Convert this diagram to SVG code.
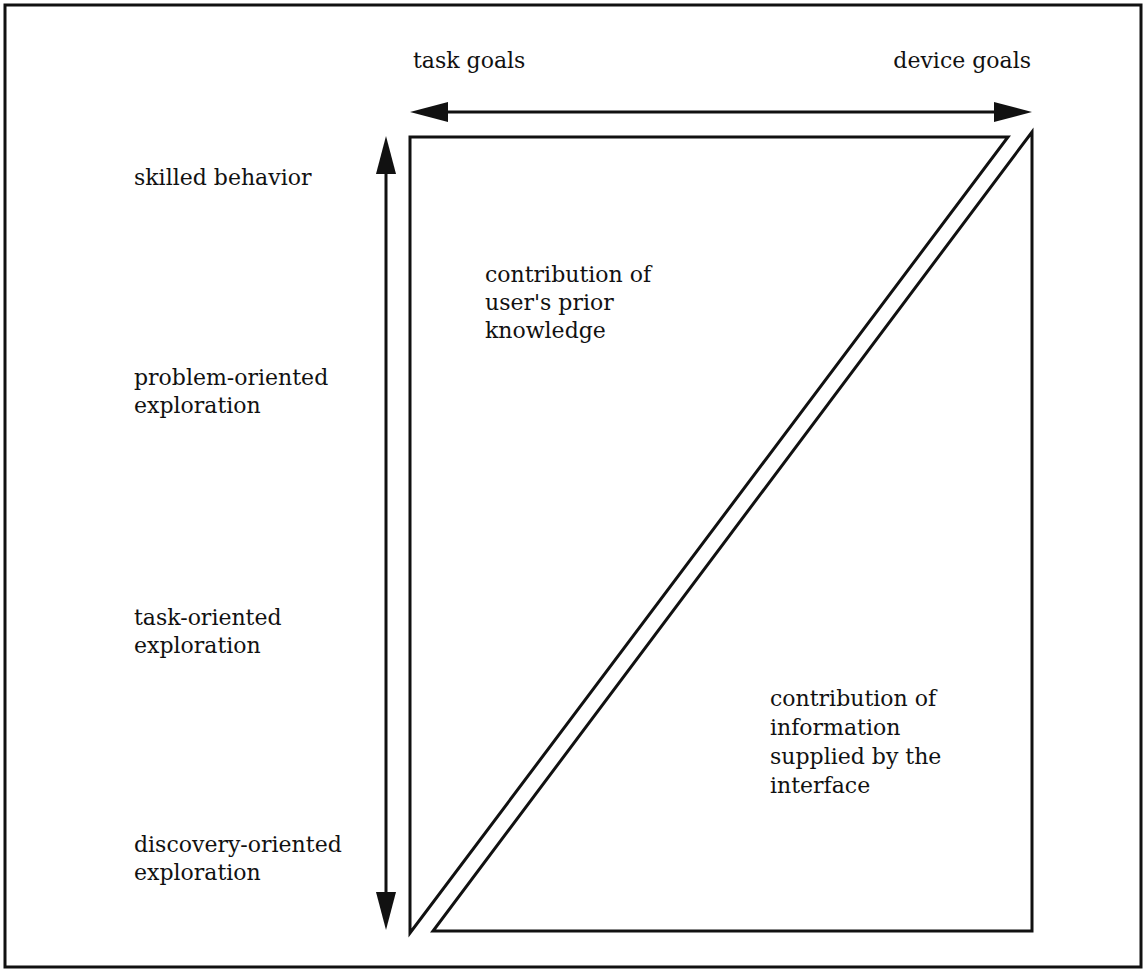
<svg xmlns="http://www.w3.org/2000/svg" width="1143" height="969" viewBox="0 0 1143 969">
<style>
text{font-family:"DejaVu Serif","Liberation Serif",serif;font-size:22px;fill:#111}
.ln{fill:none;stroke:#111;stroke-width:3;stroke-linejoin:miter}
.ar{fill:none;stroke:#111;stroke-width:3}
</style>
<defs>
<marker id="ah" markerUnits="userSpaceOnUse" markerWidth="38" markerHeight="22" refX="28" refY="11" orient="auto-start-reverse">
<path d="M0,1 L38,11 L0,21 Z" fill="#111"/>
</marker>
</defs>
<rect width="1143" height="969" fill="#fff"/>
<path id="frame" class="ln" d="M5,967 L5,5 L1141,5 L1141,967 Z"/>
<g id="connectors">
<line class="ar" x1="420" y1="112" x2="1022" y2="112" marker-start="url(#ah)" marker-end="url(#ah)"/>
<line class="ar" x1="386" y1="146" x2="386" y2="920" marker-start="url(#ah)" marker-end="url(#ah)"/>
</g>
<g id="upper-triangle">
<polygon class="ln" points="410,137 1008,137 410,933"/>
<text x="485" y="282">contribution of</text>
<text x="485" y="310">user's prior</text>
<text x="485" y="338">knowledge</text>
</g>
<g id="lower-triangle">
<polygon class="ln" points="1032,132 1032,931 433,931"/>
<text x="770" y="706">contribution of</text>
<text x="770" y="735">information</text>
<text x="770" y="764">supplied by the</text>
<text x="770" y="793">interface</text>
</g>
<g id="axis-labels">
<text x="413" y="68">task goals</text>
<text x="1031" y="68" text-anchor="end">device goals</text>
<text x="134" y="185">skilled behavior</text>
<text x="134" y="385">problem-oriented</text>
<text x="134" y="413">exploration</text>
<text x="134" y="625">task-oriented</text>
<text x="134" y="653">exploration</text>
<text x="134" y="852">discovery-oriented</text>
<text x="134" y="880">exploration</text>
</g>
</svg>
